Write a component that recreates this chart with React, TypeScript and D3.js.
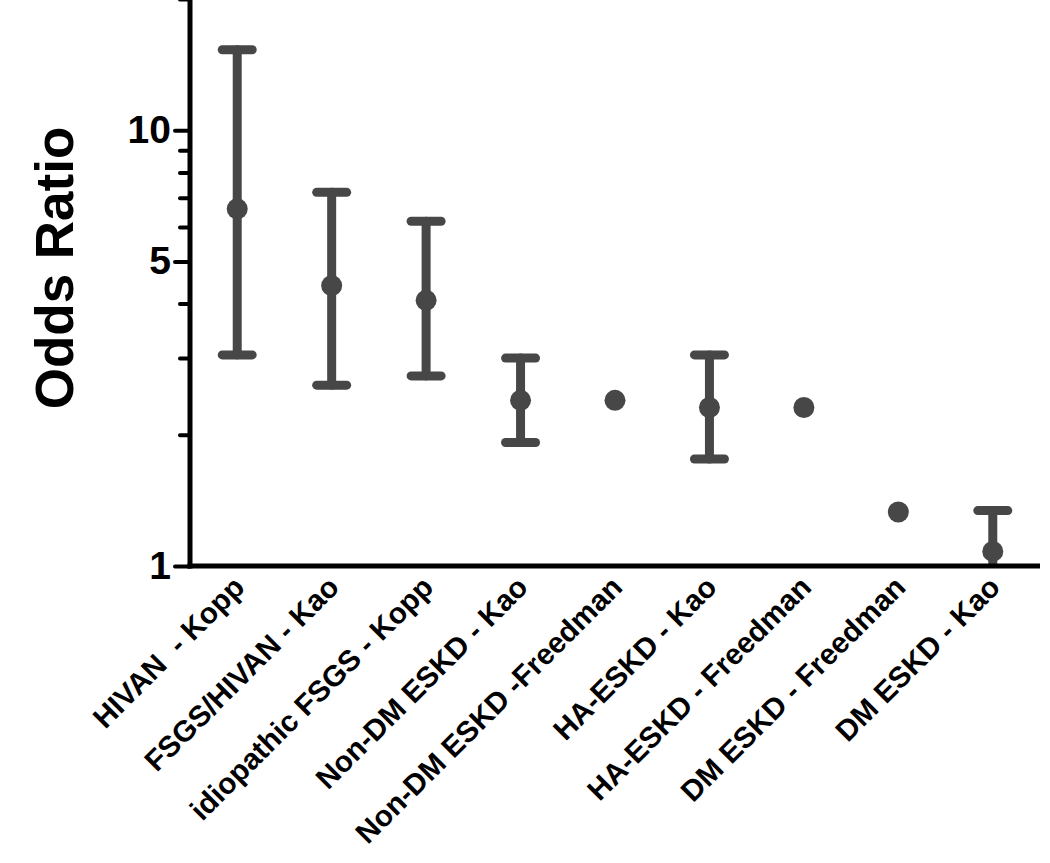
import React, { useEffect, useRef } from 'react';
import * as d3 from 'd3';

const categories = [
  'HIVAN  - Kopp',
  'FSGS/HIVAN - Kao',
  'idiopathic FSGS - Kopp',
  'Non-DM ESKD - Kao',
  'Non-DM ESKD -Freedman',
  'HA-ESKD - Kao',
  'HA-ESKD - Freedman',
  'DM ESKD - Freedman',
  'DM ESKD - Kao',
];
const oddsRatio = [6.6, 4.4, 4.07, 2.4, 2.4, 2.31, 2.31, 1.33, 1.08];
const ciLower = [3.05, 2.6, 2.73, 1.92, null, 1.76, null, null, 0.9];
const ciUpper = [15.3, 7.2, 6.18, 3.0, null, 3.05, null, null, 1.34];
const majorTicks = [1, 5, 10];
const minorTicks = [2, 3, 4, 6, 7, 8, 9, 20];

const App = () => {
  const yAxisRef = useRef(null);
  const yMinorRef = useRef(null);

  const width = 1050,
    height = 863;
  const axisX = 190,
    axisY = 566,
    axisRight = 1040;
  const font = '"Liberation Sans", Arial, sans-serif';
  const barColor = '#474747';

  const x = d3.scalePoint().domain(categories).range([axisX, axisRight]).padding(0.5);
  const y = d3.scaleLog().domain([1, 20]).range([axisY, -1]);

  useEffect(() => {
    const major = d3
      .select(yAxisRef.current)
      .call(d3.axisLeft(y).tickValues(majorTicks).tickSize(15).tickPadding(4).tickFormat(d3.format('d')));
    major.select('.domain').remove();
    major.selectAll('line').attr('stroke', '#000').attr('stroke-width', 4).attr('stroke-linecap', 'round');
    major
      .selectAll('text')
      .attr('font-family', font)
      .attr('font-weight', 'bold')
      .attr('font-size', 39)
      .attr('fill', '#000');

    const minor = d3
      .select(yMinorRef.current)
      .call(d3.axisLeft(y).tickValues(minorTicks).tickSize(10).tickFormat(() => ''));
    minor.select('.domain').remove();
    minor.selectAll('line').attr('stroke', '#000').attr('stroke-width', 4).attr('stroke-linecap', 'round');
  }, []);

  return (
    <svg width={width} height={height} style={{ position: 'absolute', left: 0, top: 0, background: '#fff' }}>
      <defs>
        <clipPath id="plot">
          <rect x={axisX} y={-10} width={axisRight - axisX} height={axisY + 10} />
        </clipPath>
      </defs>

      <g clipPath="url(#plot)">
        {categories.map((c, i) => {
          const cx = x(c);
          const lo = ciLower[i];
          const hi = ciUpper[i];
          return (
            <g key={c}>
              {lo != null && hi != null && (
                <g stroke={barColor} strokeWidth={9} strokeLinecap="round">
                  <line x1={cx} x2={cx} y1={y(hi)} y2={y(lo)} />
                  <line x1={cx - 15} x2={cx + 15} y1={y(hi)} y2={y(hi)} />
                  <line x1={cx - 15} x2={cx + 15} y1={y(lo)} y2={y(lo)} />
                </g>
              )}
              <circle cx={cx} cy={y(oddsRatio[i])} r={10.5} fill={barColor} />
            </g>
          );
        })}
      </g>

      <g ref={yMinorRef} transform={`translate(${axisX},0)`} />
      <g ref={yAxisRef} transform={`translate(${axisX},0)`} />
      <line x1={axisX} x2={axisX} y1={0} y2={axisY + 2.5} stroke="#000" strokeWidth={5} />
      <line x1={axisX - 2.5} x2={axisRight} y1={axisY} y2={axisY} stroke="#000" strokeWidth={5} />

      {categories.map((c) => (
        <text
          key={c}
          transform={`translate(${x(c) + 9},${axisY + 23}) rotate(-45)`}
          textAnchor="end"
          fontFamily={font}
          fontWeight="bold"
          fontSize={29.5}
          fill="#000"
          style={{ whiteSpace: 'pre' }}
        >
          {c}
        </text>
      ))}

      <text
        transform={`translate(73,268) rotate(-90)`}
        textAnchor="middle"
        fontFamily={font}
        fontWeight="bold"
        fontSize={53}
        fill="#000"
      >
        Odds Ratio
      </text>
    </svg>
  );
};

export default App;
